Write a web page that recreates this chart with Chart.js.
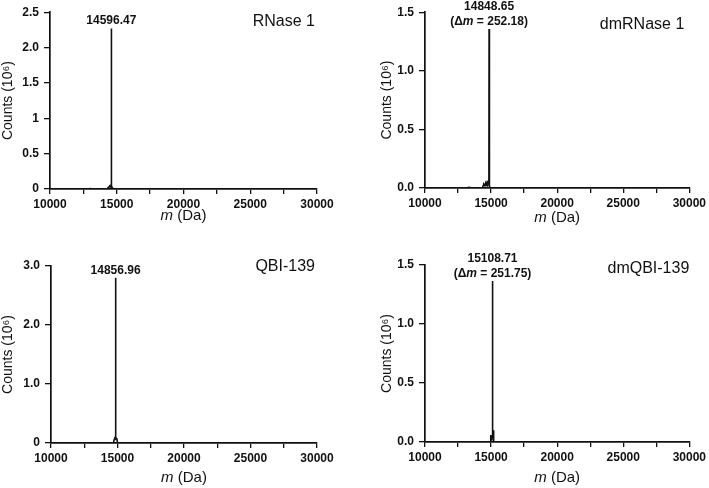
<!DOCTYPE html>
<html>
<head>
<meta charset="utf-8">
<script src="https://cdn.jsdelivr.net/npm/chart.js@4"></script>
<style>
  html, body { margin: 0; padding: 0; background: #fff; }
  #page { position: relative; width: 709px; height: 488px; overflow: hidden; }
  #page canvas { position: absolute; }
</style>
</head>
<body>
<div id="page">
  <canvas id="rnase" width="354" height="240" style="left:0;top:0"></canvas>
  <canvas id="dmrnase" width="355" height="240" style="left:354px;top:0"></canvas>
  <canvas id="qbi" width="354" height="248" style="left:0;top:240px"></canvas>
  <canvas id="dmqbi" width="355" height="248" style="left:354px;top:240px"></canvas>
</div>
<script>
// shared x axis (mass, Da)
const xTickValues = [10000, 12500, 15000, 17500, 20000, 22500, 25000, 27500, 30000];
const xTickLabels = ['10000', '', '15000', '', '20000', '', '25000', '', '30000'];

// RNase 1 spectrum (counts in 10^6)
const rnaseMass   = [10000, 13000, 13050, 13100, 14300, 14350, 14420, 14480, 14540, 14580, 14590, 14596.47, 14603, 14620, 14660, 14700, 30000];
const rnaseCounts = [0, 0, 0.004, 0, 0, 0.02, 0.03, 0.04, 0.03, 0.06, 0.05, 2.27, 0.26, 0.04, 0.02, 0, 0];
const rnaseYTicks  = [0, 0.5, 1, 1.5, 2, 2.5];
const rnaseYLabels = ['0', '0.5', '1', '1.5', '2.0', '2.5'];

// dmRNase 1 spectrum
const dmRnaseMass   = [10000, 13200, 13300, 13400, 13500, 14350, 14400, 14450, 14500, 14550, 14600, 14650, 14700, 14750, 14800, 14830, 14840, 14848.65, 14856, 14870, 14900, 15000, 30000];
const dmRnaseCounts = [0, 0, 0.006, 0.004, 0, 0, 0.02, 0.035, 0.03, 0.02, 0.04, 0.03, 0.05, 0.04, 0.06, 0.22, 0.08, 1.356, 0.1, 0.04, 0.01, 0, 0];
const dmRnaseYTicks  = [0, 0.5, 1, 1.5];
const dmRnaseYLabels = ['0.0', '0.5', '1.0', '1.5'];

// QBI-139 spectrum
const qbiMass   = [10000, 14700, 14750, 14800, 14850, 14856.96, 14870, 14920, 14960, 15000, 30000];
const qbiCounts = [0, 0, 0.06, 0.08, 0.07, 2.80, 0.08, 0.08, 0.06, 0, 0];
const qbiYTicks  = [0, 1, 2, 3];
const qbiYLabels = ['0', '1.0', '2.0', '3.0'];

// dmQBI-139 spectrum
const dmQbiMass   = [10000, 14950, 14980, 15000, 15050, 15100, 15108.71, 15120, 15150, 15170, 15220, 30000];
const dmQbiCounts = [0, 0, 0.06, 0.02, 0.03, 0.05, 1.364, 0.06, 0.1, 0.04, 0, 0];
const dmQbiYTicks  = [0, 0.5, 1, 1.5];
const dmQbiYLabels = ['0.0', '0.5', '1.0', '1.5'];

// peak annotations: [text, italic] parts per line
const rnasePeakLines   = [[['14596.47', false]]];
const dmRnasePeakLines = [[['14848.65', false]], [['(\u0394', false], ['m', true], [' = 252.18)', false]]];
const qbiPeakLines     = [[['14856.96', false]]];
const dmQbiPeakLines   = [[['15108.71', false]], [['(\u0394', false], ['m', true], [' = 251.75)', false]]];

const FONT = '"Liberation Sans", Arial, Helvetica, sans-serif';
const INK = '#111';

function drawParts(ctx, parts, cx, y, size, weight) {
  const fontFor = it => (it ? 'italic ' : '') + (weight || '') + ' ' + size + 'px ' + FONT;
  let total = 0;
  parts.forEach(([t, it]) => { ctx.font = fontFor(it); total += ctx.measureText(t).width; });
  let x = cx - total / 2;
  ctx.textAlign = 'left';
  parts.forEach(([t, it]) => {
    ctx.font = fontFor(it);
    ctx.fillText(t, x, y);
    x += ctx.measureText(t).width;
  });
}

const panelText = {
  id: 'panelText',
  afterDraw(chart, args, opts) {
    const { ctx, chartArea, scales } = chart;
    const ds = chart.data.datasets[0].data;
    let top = ds[0];
    ds.forEach(d => { if (d.y > top.y) top = d; });
    const px = scales.x.getPixelForValue(top.x);
    const py = scales.y.getPixelForValue(top.y);

    ctx.save();
    ctx.fillStyle = INK;
    ctx.textBaseline = 'alphabetic';

    // peak label(s), stacked upward from the peak tip
    const lines = opts.peakLines;
    lines.forEach((parts, i) => {
      const y = py - 4 - (lines.length - 1 - i) * 15;
      drawParts(ctx, parts, px, y, 12, 'bold');
    });

    // sample name, top right
    ctx.font = '16px ' + FONT;
    ctx.textAlign = 'right';
    ctx.textBaseline = 'middle';
    ctx.fillText(opts.name, chartArea.right - opts.nameInset, chartArea.top + opts.nameDy);

    // x axis title with italic m
    ctx.textBaseline = 'middle';
    drawParts(ctx, [['m', true], [' (Da)', false]], (chartArea.left + chartArea.right) / 2, chartArea.bottom + opts.titleDy, 15);
    ctx.restore();
  }
};

function makePanel(id, mass, counts, yTicks, yLabels, box, text) {
  const ctx = document.getElementById(id).getContext('2d');
  const c = ctx.canvas;
  return new Chart(ctx, {
    type: 'line',
    data: {
      datasets: [{
        data: mass.map((m, i) => ({ x: m, y: counts[i] })),
        borderColor: INK,
        borderWidth: 1.6,
        pointRadius: 0,
        tension: 0,
        fill: false
      }]
    },
    plugins: [panelText],
    options: {
      responsive: false,
      animation: false,
      events: [],
      layout: { padding: { left: 0, top: box.top, right: c.width - box.right, bottom: 0 } },
      plugins: {
        legend: { display: false },
        tooltip: { enabled: false },
        panelText: text
      },
      scales: {
        x: {
          type: 'linear',
          min: xTickValues[0],
          max: xTickValues[xTickValues.length - 1],
          afterBuildTicks: s => { s.ticks = xTickValues.map(v => ({ value: v })); },
          afterFit: s => { s.height = c.height - box.bottom; },
          ticks: {
            autoSkip: false,
            maxRotation: 0,
            padding: 3,
            color: INK,
            font: { family: FONT, size: 12, weight: 'bold' },
            callback: (v, i) => xTickLabels[i]
          },
          grid: { display: true, drawOnChartArea: false, drawTicks: true, tickLength: 5, color: INK, lineWidth: 1.3 },
          border: { display: true, color: INK, width: 1.7 }
        },
        y: {
          type: 'linear',
          min: yTicks[0],
          max: yTicks[yTicks.length - 1],
          afterBuildTicks: s => { s.ticks = yTicks.map(v => ({ value: v })); },
          afterFit: s => { s.width = box.left; },
          ticks: {
            autoSkip: false,
            padding: 5,
            color: INK,
            font: { family: FONT, size: 12, weight: 'bold' },
            callback: (v, i) => yLabels[i]
          },
          title: {
            display: true,
            text: 'Counts (10\u2076)',
            color: INK,
            font: { family: FONT, size: 14 },
            padding: { top: box.titlePad, bottom: 0 }
          },
          grid: { display: true, drawOnChartArea: false, drawTicks: true, tickLength: 6, color: INK, lineWidth: 1.3 },
          border: { display: true, color: INK, width: 1.7 }
        }
      }
    }
  });
}

makePanel('rnase', rnaseMass, rnaseCounts, rnaseYTicks, rnaseYLabels,
  { left: 50, right: 317, top: 12, bottom: 189, titlePad: 0 },
  { peakLines: rnasePeakLines, name: 'RNase 1', nameInset: 2, nameDy: 9, titleDy: 27 });

makePanel('dmrnase', dmRnaseMass, dmRnaseCounts, dmRnaseYTicks, dmRnaseYLabels,
  { left: 71, right: 337, top: 11, bottom: 188, titlePad: 25 },
  { peakLines: dmRnasePeakLines, name: 'dmRNase 1', nameInset: 5, nameDy: 12, titleDy: 30 });

makePanel('qbi', qbiMass, qbiCounts, qbiYTicks, qbiYLabels,
  { left: 51, right: 317, top: 26, bottom: 203, titlePad: 0 },
  { peakLines: qbiPeakLines, name: 'QBI-139', nameInset: 2, nameDy: 1, titleDy: 35 });

makePanel('dmqbi', dmQbiMass, dmQbiCounts, dmQbiYTicks, dmQbiYLabels,
  { left: 71, right: 337, top: 25, bottom: 202, titlePad: 25 },
  { peakLines: dmQbiPeakLines, name: 'dmQBI-139', nameInset: 0, nameDy: 4, titleDy: 36 });
</script>
</body>
</html>
